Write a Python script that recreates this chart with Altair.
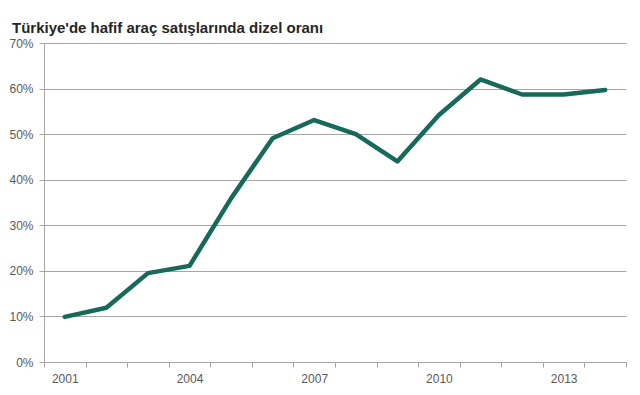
import json
import altair as alt
import pandas as pd

years = ["2001", "2002", "2003", "2004", "2005", "2006", "2007",
         "2008", "2009", "2010", "2011", "2012", "2013", "2014"]
diesel_share = [0.099, 0.119, 0.195, 0.211, 0.359, 0.491, 0.531,
                0.500, 0.440, 0.542, 0.620, 0.587, 0.587, 0.597]
label_years = ["2001", "2004", "2007", "2010", "2013"]
y_ticks = [0, 0.1, 0.2, 0.3, 0.4, 0.5, 0.6, 0.7]

df = pd.DataFrame({"year": years, "share": diesel_share})

label_expr = (
    "indexof(" + json.dumps(label_years) + ", datum.label) >= 0 ? datum.label : ''"
)

FONT = "Liberation Sans"
AXIS_GRAY = "#a6a6a6"
LABEL_GRAY = "#595959"

chart = (
    alt.Chart(df)
    .mark_line(color="#17695a", strokeWidth=4.5, strokeJoin="round", strokeCap="round")
    .encode(
        x=alt.X(
            "year:O",
            sort=years,
            bandPosition=0.5,
            scale=alt.Scale(type="band", paddingInner=0, paddingOuter=0),
            axis=alt.Axis(
                title=None,
                labelAngle=0,
                tickBand="extent",
                grid=False,
                labelExpr=label_expr,
                labelOverlap=False,
                domainColor=AXIS_GRAY,
                tickColor=AXIS_GRAY,
                tickSize=5,
                labelColor=LABEL_GRAY,
                labelFont=FONT,
                labelFontSize=12,
                labelPadding=6,
            ),
        ),
        y=alt.Y(
            "share:Q",
            scale=alt.Scale(domain=[0, 0.7], nice=False),
            axis=alt.Axis(
                title=None,
                values=y_ticks,
                format=".0%",
                grid=True,
                gridColor=AXIS_GRAY,
                gridWidth=1,
                domainColor=AXIS_GRAY,
                tickColor=AXIS_GRAY,
                tickSize=5,
                labelColor=LABEL_GRAY,
                labelFont=FONT,
                labelFontSize=12,
                labelPadding=6,
            ),
        ),
    )
    .properties(
        width=582,
        height=319,
        title=alt.TitleParams(
            "Türkiye'de hafif araç satışlarında dizel oranı",
            anchor="start",
            frame="group",
            dx=-32,
            offset=1,
            font=FONT,
            fontSize=15,
            fontWeight="bold",
            color="#262626",
        ),
        autosize=alt.AutoSizeParams(type="none"),
        padding={"left": 36, "top": 35, "right": 4, "bottom": 22},
    )
    .configure_view(stroke=None)
)

chart.save("out.html", embed_options={"renderer": "svg", "actions": False})
